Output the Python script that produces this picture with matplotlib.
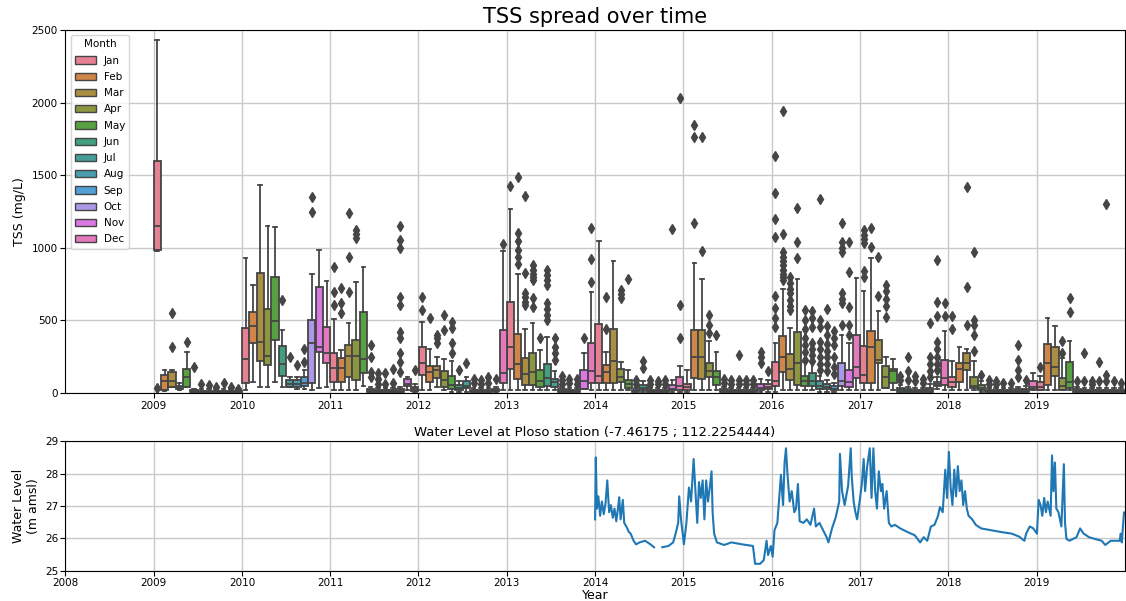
# TSS boxplots per month (top) and Ploso water level (bottom)
import matplotlib
matplotlib.use("Agg")
import matplotlib.pyplot as plt
from matplotlib.patches import Patch
import numpy as np
import seaborn as sns

months = ["Jan", "Feb", "Mar", "Apr", "May", "Jun", "Jul", "Aug", "Sep", "Oct", "Nov", "Dec"]
years = list(range(2009, 2020))

# box stats per month: (whisker low, q1, median, q3, whisker high)
box_2009 = [(975, 985, 1150, 1600, 2430), (15, 21, 85, 124, 158), (41, 41, 85, 145, 158),
            (20, 25, 35, 50, 70), (41, 41, 110, 165, 285), (5, 8, 12, 18, 30),
            (3, 6, 10, 15, 25), (3, 6, 10, 15, 25), (3, 6, 10, 15, 25),
            (3, 6, 10, 15, 25), (3, 6, 10, 15, 25), (3, 6, 10, 15, 25)]
fliers_2009 = [[35], [], [550, 320], [], [353], [180], [60], [55], [40], [70], [45], [30]]

box_2010 = [(20, 71, 234, 448, 930), (78, 346, 464, 560, 744), (41, 220, 353, 828, 1432),
            (41, 193, 257, 578, 1150), (78, 365, 498, 801, 1143), (41, 119, 200, 324, 434),
            (43, 45, 60, 90, 110), (30, 45, 60, 88, 110), (25, 48, 70, 112, 158),
            (20, 67, 346, 503, 820), (35, 285, 320, 730, 985), (41, 209, 278, 457, 771)]
fliers_2010 = [[], [], [], [], [], [640], [248], [193], [215, 303], [1352, 1249], [], []]

box_2011 = [(20, 76, 172, 275, 510), (20, 76, 172, 241, 296), (20, 112, 257, 330, 482),
            (20, 90, 257, 365, 767), (48, 140, 234, 560, 870), (3, 10, 15, 25, 40),
            (3, 8, 12, 20, 35), (3, 8, 12, 20, 35), (3, 8, 12, 20, 35),
            (3, 10, 15, 25, 45), (20, 48, 65, 96, 113), (5, 15, 25, 40, 60)]
fliers_2011 = [[870, 698, 606], [723, 620, 551], [1240, 939, 698], [1122, 1093, 1068], [],
               [330, 248, 147, 112], [140, 100, 60], [140, 60], [165, 70],
               [1150, 1053, 1000, 663, 606, 422, 378, 278, 216, 147], [], [158]]

box_2012 = [(20, 124, 206, 319, 489), (20, 78, 147, 186, 303), (40, 107, 158, 186, 248),
            (20, 43, 90, 152, 234), (10, 27, 55, 117, 220), (10, 20, 35, 55, 80),
            (10, 34, 50, 83, 110), (3, 8, 12, 20, 35), (3, 8, 12, 20, 35),
            (3, 8, 12, 20, 35), (10, 15, 20, 28, 40), (20, 67, 140, 434, 978)]
fliers_2012 = [[663, 572], [517], [400, 378, 344], [537, 434], [491, 447, 344, 275], [158],
               [206], [100, 70], [90, 60], [110, 70], [100], [1026]]

box_2013 = [(20, 163, 319, 629, 1267), (20, 96, 200, 406, 817), (20, 55, 129, 243, 441),
            (20, 55, 147, 275, 484), (20, 39, 85, 158, 296), (20, 48, 105, 200, 383),
            (20, 39, 76, 94, 150), (3, 8, 15, 25, 45), (3, 8, 12, 20, 35),
            (3, 8, 12, 20, 35), (25, 25, 85, 158, 278), (20, 71, 152, 342, 693)]
fliers_2013 = [[1426], [1485, 1104, 1047, 985, 934, 886], [1357, 824, 689, 663, 629, 606],
               [880, 850, 820, 800, 778, 654, 594], [378],
               [847, 810, 780, 744, 620, 580, 540, 503], [377, 319, 273, 227],
               [120, 90, 60], [100, 70], [100, 60], [377], [1134, 921, 767]]

box_2014 = [(20, 67, 117, 473, 1047), (20, 67, 147, 193, 285), (20, 67, 222, 439, 911),
            (20, 78, 108, 163, 216), (20, 32, 61, 90, 158), (3, 8, 12, 20, 35),
            (10, 20, 35, 55, 80), (3, 8, 12, 20, 35), (3, 8, 12, 20, 35),
            (3, 8, 12, 20, 35), (10, 20, 30, 55, 90), (10, 20, 48, 112, 186)]
fliers_2014 = [[], [663, 439], [], [709, 680, 654], [783], [90, 60], [222, 170], [90, 60],
               [80, 60], [90, 60], [1127], [2030, 606, 378]]

box_2015 = [(10, 20, 40, 60, 158), (20, 101, 246, 434, 893), (20, 94, 246, 434, 783),
            (20, 112, 152, 209, 360), (20, 55, 112, 152, 285), (3, 8, 15, 25, 45),
            (3, 8, 12, 20, 35), (3, 8, 12, 20, 35), (3, 8, 12, 20, 35),
            (3, 8, 12, 20, 35), (10, 20, 35, 62, 100), (10, 25, 40, 60, 90)]
fliers_2015 = [[], [1846, 1765, 1173], [1761, 980], [537, 468, 411], [400], [100, 70],
               [90, 60], [262, 90, 60], [90, 60], [90, 60], [285, 250, 206], [150]]

box_2016 = [(10, 48, 83, 216, 342), (20, 147, 250, 393, 714), (20, 90, 163, 269, 445),
            (20, 55, 209, 422, 783), (20, 48, 83, 117, 216), (20, 48, 83, 136, 216),
            (10, 30, 48, 83, 120), (5, 25, 40, 60, 90), (5, 20, 30, 48, 70),
            (20, 48, 83, 204, 400), (20, 43, 76, 158, 342), (20, 101, 181, 400, 790)]
fliers_2016 = [[1632, 1375, 1196, 1072, 668, 583, 514, 457],
               [1944, 1095, 973, 940, 910, 880, 850, 820, 800, 778],
               [801, 760, 720, 690, 640, 600, 572], [1272, 1042, 932],
               [572, 500, 440, 380, 330, 280, 230], [567, 514, 457, 344, 300, 260, 220],
               [1334, 503, 457, 350, 300, 250, 200, 160],
               [576, 460, 400, 340, 290, 250, 200, 150], [430, 380, 330, 250, 180, 130],
               [1173, 1042, 1000, 973, 687, 650, 618, 468], [1038, 835, 594, 468, 400], []]

box_2017 = [(20, 69, 124, 324, 700), (20, 67, 319, 427, 928), (20, 204, 227, 365, 565),
            (32, 32, 108, 188, 248), (20, 67, 151, 165, 234), (3, 10, 20, 35, 55),
            (3, 8, 15, 25, 40), (3, 8, 12, 20, 35), (3, 8, 12, 20, 35),
            (5, 10, 20, 35, 60), (30, 48, 60, 76, 110), (20, 55, 101, 227, 427)]
fliers_2017 = [[1122, 1090, 1060, 1031, 840, 800], [1134, 1008], [939, 668],
               [744, 700, 650, 600, 525], [], [120, 90], [250, 150, 90], [120, 80], [100, 70],
               [480, 250, 200, 150, 110], [916, 629, 530, 350, 300, 250, 200, 158], [622, 530]]

box_2018 = [(20, 43, 76, 108, 220), (20, 78, 163, 209, 319), (20, 158, 209, 278, 303),
            (20, 32, 48, 112, 220), (10, 20, 35, 55, 80), (3, 8, 12, 20, 35),
            (3, 8, 12, 20, 35), (3, 8, 12, 20, 35), (3, 8, 12, 20, 35),
            (3, 8, 15, 25, 40), (5, 10, 20, 30, 50), (20, 25, 45, 80, 140)]
fliers_2018 = [[530, 440], [], [1421, 732, 468], [973, 505, 470, 400, 288], [124], [90, 60],
               [80, 60], [70], [70], [330, 227, 158, 112], [90], []]

box_2019 = [(20, 20, 40, 78, 120), (20, 55, 204, 337, 514), (20, 117, 181, 315, 461),
            (20, 20, 48, 101, 239), (20, 32, 76, 216, 360), (3, 8, 15, 25, 40),
            (3, 8, 12, 20, 35), (3, 8, 12, 20, 35), (3, 8, 12, 20, 35),
            (3, 8, 12, 20, 35), (3, 8, 12, 20, 35), (3, 8, 12, 20, 35)]
fliers_2019 = [[181], [], [], [360, 278], [657, 560], [80], [273, 80], [80, 60], [216, 80],
               [1299, 124, 80], [80], [70]]

# water level at Ploso (decimal year, m amsl), NaN marks the data gap
wl_time = [2014.000, 2014.008, 2014.020, 2014.037, 2014.057, 2014.077, 2014.098, 2014.118,
           2014.138, 2014.159, 2014.179, 2014.200, 2014.220, 2014.240, 2014.261, 2014.273,
           2014.289, 2014.314, 2014.330, 2014.354, 2014.383, 2014.403, 2014.436, 2014.464,
           2014.505, 2014.566, 2014.627, 2014.668, 2014.720, 2014.761, 2014.831, 2014.884,
           2014.912, 2014.941, 2014.953, 2014.973, 2015.006, 2015.034, 2015.063, 2015.087,
           2015.116, 2015.136, 2015.157, 2015.177, 2015.197, 2015.218, 2015.238, 2015.258,
           2015.279, 2015.299, 2015.319, 2015.331, 2015.348, 2015.380, 2015.462, 2015.543,
           2015.665, 2015.788, 2015.812, 2015.869, 2015.910, 2015.942, 2015.959, 2015.991,
           2016.011, 2016.032, 2016.064, 2016.085, 2016.105, 2016.129, 2016.146, 2016.162,
           2016.178, 2016.203, 2016.227, 2016.256, 2016.276, 2016.297, 2016.317, 2016.358,
           2016.398, 2016.439, 2016.480, 2016.500, 2016.541, 2016.581, 2016.622, 2016.643,
           2016.683, 2016.724, 2016.765, 2016.773, 2016.797, 2016.826, 2016.866, 2016.895,
           2016.907, 2016.928, 2016.948, 2016.968, 2017.001, 2017.021, 2017.042, 2017.058,
           2017.082, 2017.111, 2017.131, 2017.152, 2017.172, 2017.192, 2017.213, 2017.237,
           2017.253, 2017.274, 2017.302, 2017.327, 2017.355, 2017.396, 2017.457, 2017.538,
           2017.620, 2017.681, 2017.722, 2017.762, 2017.803, 2017.844, 2017.884, 2017.905,
           2017.937, 2017.966, 2017.986, 2018.007, 2018.027, 2018.047, 2018.068, 2018.088,
           2018.108, 2018.129, 2018.149, 2018.169, 2018.190, 2018.210, 2018.230, 2018.271,
           2018.312, 2018.373, 2018.475, 2018.597, 2018.719, 2018.801, 2018.862, 2018.882,
           2018.923, 2018.963, 2019.004, 2019.024, 2019.045, 2019.065, 2019.086, 2019.106,
           2019.126, 2019.159, 2019.175, 2019.191, 2019.208, 2019.224, 2019.248, 2019.281,
           2019.309, 2019.322, 2019.338, 2019.371, 2019.452, 2019.493, 2019.533, 2019.594,
           2019.656, 2019.737, 2019.778, 2019.839, 2019.900, 2019.941, 2019.953, 2019.965,
           2019.990]
wl_level = [26.59, 28.50, 26.92, 27.30, 26.70, 27.14, 26.75, 27.08,
            27.79, 26.81, 27.03, 26.64, 26.92, 26.53, 26.97, 27.27,
            26.59, 27.19, 26.48, 26.37, 26.20, 26.15, 25.93, 25.82,
            25.88, 25.93, 25.82, 25.73, np.nan, 25.73, 25.77, 25.88,
            26.15, 26.48, 27.30, 26.59, 25.82, 26.48, 27.57, 27.14,
            28.45, 27.46, 26.48, 27.74, 27.25, 27.79, 26.59, 27.79,
            27.14, 27.57, 28.07, 26.81, 26.15, 25.88, 25.80, 25.88,
            25.82, 25.77, 25.22, 25.22, 25.33, 25.93, 25.49, 25.77,
            25.44, 26.26, 26.48, 27.25, 27.96, 27.03, 28.34, 28.78,
            28.01, 27.14, 27.46, 26.81, 26.92, 27.68, 26.53, 26.48,
            26.59, 26.42, 26.92, 26.37, 26.48, 26.26, 26.04, 25.88,
            26.31, 26.64, 27.14, 28.61, 27.46, 27.03, 27.63, 28.78,
            27.90, 27.14, 26.81, 26.59, 27.25, 27.68, 28.45, 27.46,
            28.23, 28.78, 27.25, 28.78, 27.46, 26.92, 28.07, 27.46,
            27.68, 26.92, 27.46, 26.48, 26.37, 26.42, 26.31, 26.20,
            26.10, 25.88, 26.04, 25.93, 26.37, 26.42, 26.70, 26.97,
            26.81, 28.12, 27.25, 28.67, 27.57, 27.03, 28.12, 27.30,
            28.23, 27.46, 27.79, 27.03, 27.46, 26.92, 26.70, 26.59,
            26.42, 26.31, 26.26, 26.20, 26.15, 26.06, 25.93, 26.15,
            26.37, 26.31, 26.15, 27.19, 27.03, 26.70, 27.25, 26.81,
            27.14, 26.70, 28.56, 27.46, 28.34, 26.92, 26.81, 26.37,
            28.29, 26.48, 25.99, 25.93, 26.04, 26.31, 26.15, 26.04,
            25.99, 25.93, 25.80, 25.93, 25.93, 25.93, 26.15, 25.88,
            26.80]

box_by_year = dict(zip(years, [box_2009, box_2010, box_2011, box_2012, box_2013, box_2014,
                               box_2015, box_2016, box_2017, box_2018, box_2019]))
fliers_by_year = dict(zip(years, [fliers_2009, fliers_2010, fliers_2011, fliers_2012,
                                  fliers_2013, fliers_2014, fliers_2015, fliers_2016,
                                  fliers_2017, fliers_2018, fliers_2019]))

palette = [sns.desaturate(c, 0.75) for c in sns.color_palette("husl", 12)]
gray = "#454545"

fig = plt.figure(figsize=(11.26, 6.01), dpi=100)
ax1 = fig.add_axes([0.058, 0.346, 0.941, 0.604])
ax2 = fig.add_axes([0.058, 0.050, 0.941, 0.216])

# top panel: one box per month, months spread across the year
for m in range(12):
    stats = []
    pos = []
    for y in years:
        lo, q1, med, q3, hi = box_by_year[y][m]
        stats.append(dict(whislo=lo, q1=q1, med=med, q3=q3, whishi=hi,
                          fliers=fliers_by_year[y][m]))
        pos.append(y + (m + 0.5) / 12)
    ax1.bxp(stats, positions=pos, widths=0.98 / 12, patch_artist=True, manage_ticks=False,
            boxprops=dict(facecolor=palette[m], edgecolor=gray, linewidth=1.3),
            medianprops=dict(color=gray, linewidth=1.3),
            whiskerprops=dict(color=gray, linewidth=1.3),
            capprops=dict(color=gray, linewidth=1.3),
            flierprops=dict(marker="d", markerfacecolor=gray, markeredgecolor=gray,
                            markersize=5))

ax1.set_xlim(2008, 2020)
ax1.set_ylim(0, 2500)
ax1.set_xticks(years)
ax1.set_xticklabels([str(y) for y in years])
ax1.set_yticks([0, 500, 1000, 1500, 2000, 2500])
ax1.grid(True, color="#c8c8c8", linewidth=1)
ax1.set_axisbelow(True)
ax1.tick_params(labelsize=7.5, pad=2)
ax1.set_ylabel("TSS (mg/L)", fontsize=9)
ax1.set_title("TSS spread over time", fontsize=15, pad=5)

handles = [Patch(facecolor=palette[i], edgecolor=gray, label=months[i]) for i in range(12)]
leg = ax1.legend(handles=handles, title="Month", loc="upper left", fontsize=7.5,
                 title_fontsize=7.5, labelspacing=0.6)

# bottom panel: water level line
ax2.plot(wl_time, wl_level, color="#1f77b4", linewidth=1.5)
ax2.set_xlim(2008, 2020)
ax2.set_ylim(25, 29)
ax2.set_xticks(list(range(2008, 2020)))
ax2.set_xticklabels([str(y) for y in range(2008, 2020)])
ax2.set_yticks([25, 26, 27, 28, 29])
ax2.grid(True, color="#c8c8c8", linewidth=1)
ax2.set_axisbelow(True)
ax2.tick_params(labelsize=7.5, pad=1.5)
ax2.set_ylabel("Water Level\n(m amsl)", fontsize=9)
ax2.set_xlabel("Year", fontsize=9, labelpad=1)
ax2.set_title("Water Level at Ploso station (-7.46175 ; 112.2254444)", fontsize=9.5, pad=4)

fig.savefig("out.png", dpi=100)
